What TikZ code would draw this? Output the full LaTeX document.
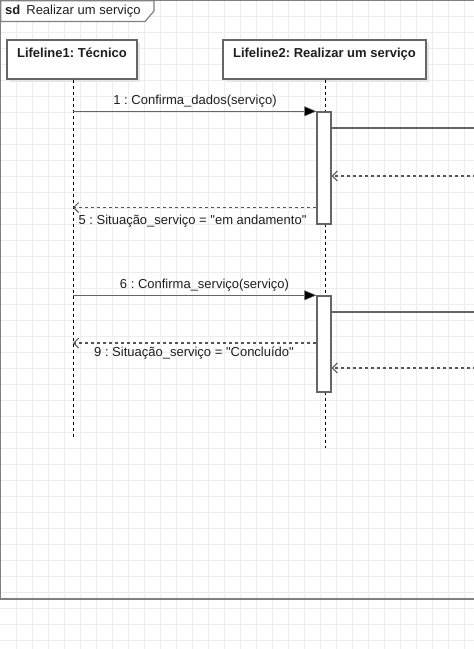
\documentclass[tikz,border=0pt]{standalone}
\usepackage{fontspec}
\setmainfont{Liberation Sans}[Ligatures=TeXOff]
\usetikzlibrary{arrows.meta}
\definecolor{gridc}{HTML}{EDEDED}
\definecolor{linec}{HTML}{666666}
\definecolor{retc}{HTML}{555555}
\definecolor{framec}{HTML}{808080}
\definecolor{textc}{HTML}{1E1E1E}
\definecolor{shadowc}{HTML}{E6E6E6}
\frenchspacing
\begin{document}
\begin{tikzpicture}[x=1pt,y=-1pt,
  every node/.style={font=\fontsize{13}{15}\selectfont, text=textc},
  lifebox/.style={draw=linec, line width=1.4pt, fill=white, minimum width=#1, minimum height=39pt,
     inner ysep=0pt, text height=17pt, text depth=22pt, font=\fontsize{13}{15}\selectfont\bfseries},
  actbar/.style={draw=linec, line width=1.4pt, fill=white, minimum width=14pt, minimum height=#1, inner sep=0pt},
  lifeline/.style={draw=black, dash pattern=on 3pt off 3pt, line width=0.9pt},
  sync/.style={draw=linec, line width=1.4pt, -{Triangle[length=12pt,width=10pt,fill=black,line width=0.5pt]}},
  msg/.style={draw=linec, line width=1.4pt},
  ret/.style={draw=retc, line width=1.2pt, dash pattern=on 3pt off 3pt, -{Straight Barb[length=5pt,width=10pt,line width=1pt]}},
  lbl/.style={inner sep=0pt}
]
\useasboundingbox (0,0) rectangle (474,649);
\fill[white] (0,0) rectangle (474,649);
\foreach \i in {16,32,...,464} \draw[gridc, line width=0.9pt] (\i,0) -- (\i,649);
\foreach \j in {16,32,...,640} \draw[gridc, line width=0.9pt] (0,\j) -- (474,\j);

% frame
\draw[framec, line width=1.5pt] (480,0.7) -- (0.7,0.7) -- (0.7,599) -- (480,599);
\draw[framec, line width=1.2pt, fill=white] (0.7,0.7) -- (154,0.7) -- (154,11) -- (145,21.5) -- (0.7,21.5) -- cycle;
\node[lbl, anchor=west] (hdr) at (5,11) {\textbf{sd}\hspace{6pt}Realizar um serviço};

% shadows
\fill[shadowc] (10,43) rectangle (140,82);
\fill[shadowc] (226,43) rectangle (429,82);

% lifeline heads
\node[lifebox=130pt] (L1) at (72,59.5) {Lifeline1: Técnico};
\node[lifebox=203pt] (L2) at (324.5,59.5) {Lifeline2: Realizar um serviço};

\coordinate (L1end) at (73,437);
\coordinate (L2end) at (325.5,448);
\draw[lifeline] (L1.south -| L1end) -- (L1end);
\draw[lifeline] (L2.south -| L2end) -- (L2end);

% activation bars
\node[actbar=112pt] (A1) at (324,168) {};
\node[actbar=96pt] (A2) at (324,344) {};

% y levels
\coordinate (o1) at (476,128);
\coordinate (i1) at (476,176);
\coordinate (y5) at (0,207.5);
\coordinate (o2) at (476,312);
\coordinate (y9) at (0,343);
\coordinate (i2) at (476,368);

% message 1
\draw[sync] (L1end |- A1.north) -- (A1.north west);
\node[lbl, anchor=center] (t1) at (195,101.5) {1 : Confirma\_dados(serviço)};
\draw[msg] (A1.east |- o1) -- (o1);
\draw[ret] (i1) -- (A1.east |- i1);
\draw[ret] (A1.west |- y5) -- (L1end |- y5);
\node[lbl, anchor=center] (t5) at (192.5,221.5) {5 : Situação\_serviço = "em andamento"};

% message 6
\draw[sync] (L1end |- A2.north) -- (A2.north west);
\node[lbl, anchor=center] (t6) at (204.5,285.5) {6 : Confirma\_serviço(serviço)};
\draw[msg] (A2.east |- o2) -- (o2);
\draw[ret] (A2.west |- y9) -- (L1end |- y9);
\node[lbl, anchor=center] (t9) at (194,353.5) {9 : Situação\_serviço = "Concluído"};
\draw[ret] (i2) -- (A2.east |- i2);
\end{tikzpicture}
\end{document}
